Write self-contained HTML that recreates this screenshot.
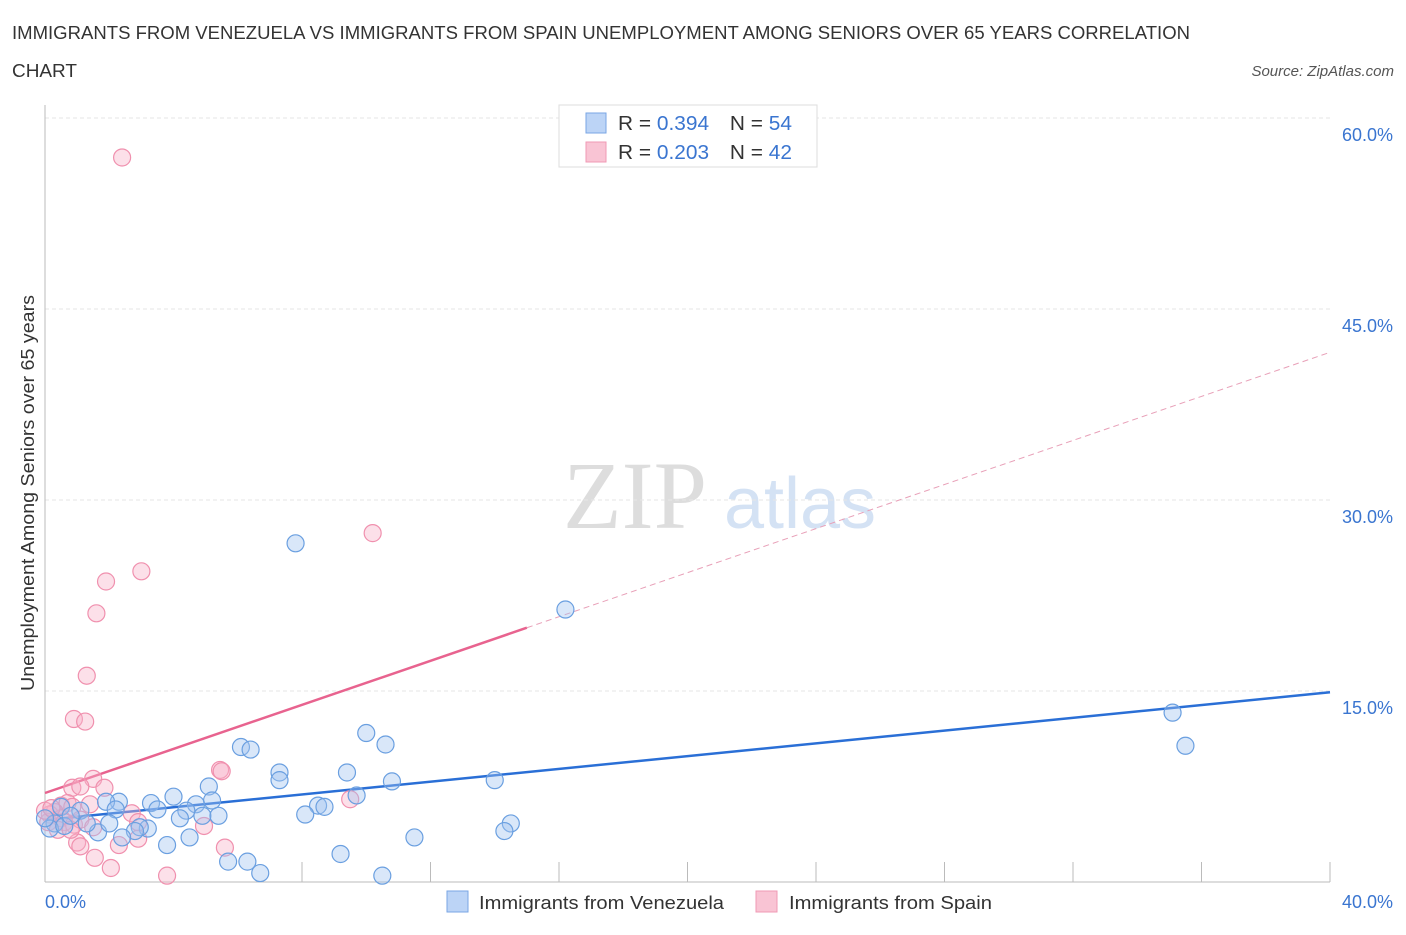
<!DOCTYPE html>
<html><head><meta charset="utf-8"><style>
body{margin:0;background:#fff;font-family:"Liberation Sans",sans-serif;}
</style></head><body>
<svg width="1406" height="930" xmlns="http://www.w3.org/2000/svg" font-family="Liberation Sans, sans-serif">
<text x="12" y="39" font-size="18" fill="#333" textLength="1178" lengthAdjust="spacingAndGlyphs">IMMIGRANTS FROM VENEZUELA VS IMMIGRANTS FROM SPAIN UNEMPLOYMENT AMONG SENIORS OVER 65 YEARS CORRELATION</text>
<text x="12" y="77" font-size="18" fill="#333" textLength="65" lengthAdjust="spacingAndGlyphs">CHART</text>
<text x="1394" y="76" font-size="15" fill="#555" font-style="italic" text-anchor="end">Source: ZipAtlas.com</text>
<text x="635" y="528" font-size="96" fill="#ddd" font-family="Liberation Serif, serif" text-anchor="middle">ZIP</text>
<text x="800" y="528" font-size="72" fill="#d4e2f4" text-anchor="middle">atlas</text>
<g id="grid"></g>
<line x1="45" y1="105" x2="45" y2="882" stroke="#bbb"/>
<line x1="45" y1="882" x2="1330" y2="882" stroke="#bbb"/>
<g id="ticks"></g>
<text x="34" y="493" font-size="18" fill="#333" text-anchor="middle" textLength="396" lengthAdjust="spacingAndGlyphs" transform="rotate(-90 34 493)">Unemployment Among Seniors over 65 years</text>
<text x="45" y="908" font-size="18" fill="#3a75d0">0.0%</text>
<text x="1393" y="908" font-size="18" fill="#3a75d0" text-anchor="end">40.0%</text>
<g id="lines"></g>
<g id="dots"></g>
<g>
<rect x="559" y="105" width="258" height="62" fill="#fff" stroke="#ddd"/>
<rect x="586" y="113" width="20" height="20" fill="#bcd4f6" stroke="#7aa6e4"/>
<rect x="586" y="142" width="20" height="20" fill="#f9c4d4" stroke="#f09ab5"/>
<text x="618" y="130" font-size="20" fill="#333" textLength="174" lengthAdjust="spacingAndGlyphs">R = <tspan fill="#3a75d0">0.394</tspan><tspan dx="20">N = </tspan><tspan fill="#3a75d0">54</tspan></text>
<text x="618" y="159" font-size="20" fill="#333" textLength="174" lengthAdjust="spacingAndGlyphs">R = <tspan fill="#3a75d0">0.203</tspan><tspan dx="20">N = </tspan><tspan fill="#3a75d0">42</tspan></text>
</g>
<g>
<rect x="447" y="891" width="21" height="21" fill="#bcd4f6" stroke="#7aa6e4"/>
<text x="479" y="909" font-size="18" fill="#333" textLength="245" lengthAdjust="spacingAndGlyphs">Immigrants from Venezuela</text>
<rect x="756" y="891" width="21" height="21" fill="#f9c4d4" stroke="#f09ab5"/>
<text x="789" y="909" font-size="18" fill="#333" textLength="203" lengthAdjust="spacingAndGlyphs">Immigrants from Spain</text>
</g>
</svg>
<script>
const yTicks=[15,30,45,60];
const yTickLabels=["15.0%","30.0%","45.0%","60.0%"];
const xTicks=[8,12,16,20,24,28,32,36,40];
const venX=[7.8,16.2,35.1,35.5,6.1,6.4,10.0,10.6,7.3,7.3,9.4,10.8,14.0,5.1,5.2,4.0,3.3,4.7,2.3,0.5,1.9,2.2,4.4,3.5,4.2,4.9,5.4,8.5,8.7,9.7,8.1,14.5,14.3,11.5,3.8,4.5,3.2,2.95,2.8,2.4,1.65,2.0,5.7,6.3,6.7,9.2,10.5,1.1,0.3,0.15,0.6,1.3,0.0,0.8];
const venY=[26.6,21.4,13.3,10.7,10.6,10.4,11.7,10.8,8.6,8.0,8.6,7.9,8.0,7.5,6.4,6.7,6.2,6.1,6.3,5.9,6.3,5.7,5.6,5.7,5.0,5.2,5.2,6.0,5.9,6.8,5.3,4.6,4.0,3.5,2.9,3.5,4.2,4.3,4.0,3.5,3.9,4.6,1.6,1.6,0.7,2.2,0.5,5.6,4.6,4.2,4.4,4.6,5.0,5.2];
const spX=[2.4,10.2,3.0,1.9,1.6,1.3,0.9,1.25,5.45,5.5,1.5,1.85,0.85,1.1,0.5,0.7,0.85,1.4,9.5,2.7,2.9,4.95,0.3,0.15,0.1,0.5,0.6,0.9,1.1,1.5,1.0,1.1,1.55,2.3,2.9,2.05,3.8,5.6,0.4,0.0,0.2,0.8];
const spY=[56.9,27.4,24.4,23.6,21.1,16.2,12.8,12.6,8.8,8.7,8.1,7.4,7.4,7.5,6.0,6.2,5.9,6.1,6.5,5.4,4.7,4.4,5.5,5.3,4.7,5.0,4.7,4.5,4.9,4.3,3.1,2.8,1.9,2.9,3.4,1.1,0.5,2.7,4.1,5.6,5.8,4.1];
const venTrend=[4.87,14.9];
const spTrend=[6.99,41.6];
const spSolidEnd=15.0;
const NS="http://www.w3.org/2000/svg";
const X=v=>45+v*32.125, Y=v=>882-v*12.733;
function mk(t,a,p){const e=document.createElementNS(NS,t);for(const k in a)e.setAttribute(k,a[k]);document.getElementById(p).appendChild(e);return e;}
yTicks.forEach((t,i)=>{
 const g=mk('line',{x1:45,x2:1330,y1:Y(t),y2:Y(t),stroke:'#e6e6e6','stroke-dasharray':'4,3'},'grid');
 
 
 const tx=mk('text',{x:1393,y:Y(t)+23,'font-size':18,fill:'#3a75d0','text-anchor':'end'},'grid');
 tx.textContent=yTickLabels[i];
 
 
});
xTicks.forEach(t=>{
 const l=mk('line',{x1:X(t),x2:X(t),y1:862,y2:882,stroke:'#bbb'},'ticks');
 
 
});
function lerp(tr,x){return tr[0]+(tr[1]-tr[0])*x/40;}
const bl=mk('line',{x1:X(0),y1:Y(lerp(venTrend,0)),x2:X(40),y2:Y(lerp(venTrend,40)),stroke:'#2a6fd6','stroke-width':2.5},'lines');


const pl=mk('line',{x1:X(0),y1:Y(lerp(spTrend,0)),x2:X(spSolidEnd),y2:Y(lerp(spTrend,spSolidEnd)),stroke:'#e8638f','stroke-width':2.5},'lines');


const pd=mk('line',{x1:X(spSolidEnd),y1:Y(lerp(spTrend,spSolidEnd)),x2:X(40),y2:Y(lerp(spTrend,40)),stroke:'#e8a0b8','stroke-width':1,'stroke-dasharray':'6,4'},'lines');


spX.forEach((x,i)=>{
 const c=mk('circle',{cx:X(x),cy:Y(spY[i]),r:8.5,fill:'rgba(248,178,200,0.4)',stroke:'#f090ae','stroke-width':1.2},'dots');
 
 
});
venX.forEach((x,i)=>{
 const c=mk('circle',{cx:X(x),cy:Y(venY[i]),r:8.5,fill:'rgba(160,195,240,0.4)',stroke:'#6a9fe0','stroke-width':1.2},'dots');
 
 
});
</script>
</body></html>
